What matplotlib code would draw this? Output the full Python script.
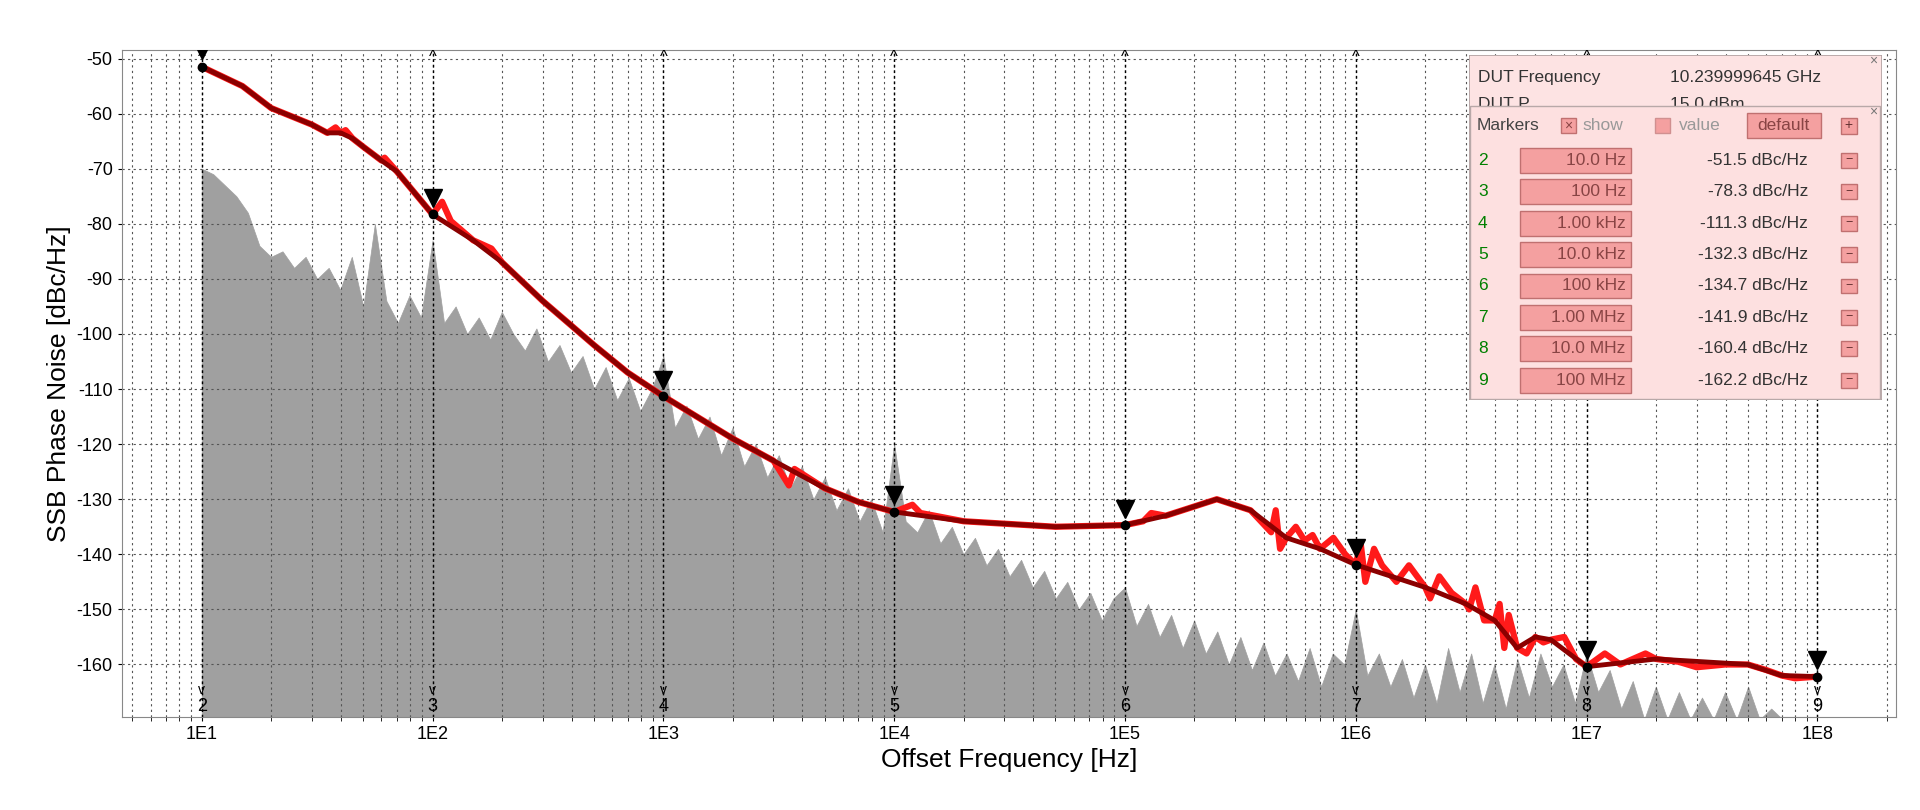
import numpy as np
import matplotlib
matplotlib.use("Agg")
import matplotlib.pyplot as plt
from matplotlib.patches import Rectangle
from matplotlib.ticker import LogLocator, NullFormatter

plt.rcParams['font.family'] = ['Liberation Sans', 'DejaVu Sans']

# smooth trace
smooth_f = [10, 15, 20, 30, 35, 40, 45, 50, 60, 70, 100, 150, 200, 300, 500, 700, 1000, 2000, 3000, 5000, 7000,
            1e4, 2e4, 5e4, 1e5, 1.5e5, 2.5e5, 3.5e5, 5e5, 7e5, 1e6, 2e6, 3e6, 4e6, 5e6, 6e6, 7e6, 1e7, 2e7, 5e7, 7e7, 1e8]
smooth_v = [-51.5, -55, -59, -62, -63.5, -63.5, -64.5, -66, -68.5, -70.5, -78.3, -83, -87, -94, -102, -107, -111.3,
            -119, -123, -128, -130.5, -132.3, -134, -135, -134.7, -133, -130, -132, -137, -139, -141.9, -146, -149,
            -152, -157, -155, -155.5, -160.4, -159, -160, -162, -162.2]
# deviations of the raw (noisy) trace from the smooth one
dev_f = [38, 42, 62, 110, 120, 180, 3500, 3700, 1.2e4, 1.3e4, 1.2e5, 1.3e5,
         4.3e5, 4.5e5, 4.7e5, 5.5e5, 6e5, 6.5e5, 8e5, 9e5, 1.05e6, 1.1e6, 1.2e6, 1.3e6, 1.5e6, 1.7e6,
         2.1e6, 2.3e6, 2.6e6, 3.1e6, 3.3e6, 3.6e6, 4.2e6, 4.4e6, 4.6e6, 5.5e6, 6.5e6, 8e6, 9e6,
         1.2e7, 1.4e7, 1.8e7, 2.5e7, 3e7, 4e7, 6e7, 8e7]
dev_v = [-62.5, -63, -68, -76, -79.5, -84.5, -127.5, -124.5, -131, -132.5, -134, -132.5,
         -136, -132, -139, -135, -137.5, -136.5, -137, -140, -138, -145, -139, -142, -145, -142,
         -148, -144, -147, -150, -146, -152, -149, -157, -151, -158, -156, -155, -159,
         -158, -160, -158, -159.5, -160.5, -160, -161, -162.5]

# measurement noise floor / spurs (grey), 20 points per decade from 1E1 to 1E8
grey_f = np.logspace(1, 8, 141)
grey_v = [-70, -71, -73, -75, -78, -84, -86, -85, -88, -86, -90, -88, -92, -86, -95, -80, -94, -98, -93, -97,
          -83, -98, -95, -100, -97, -101, -96, -100, -103, -99, -105, -102, -107, -104, -110, -106, -112, -108, -114, -110,
          -104, -117, -113, -119, -115, -122, -117, -124, -120, -126, -122, -128, -124, -130, -126, -132, -128, -134, -130, -136,
          -120, -134, -136, -132, -138, -135, -140, -137, -142, -139, -144, -141, -146, -143, -148, -145, -150, -147, -152, -148,
          -146, -153, -149, -155, -151, -157, -152, -158, -154, -160, -155, -161, -156, -162, -158, -163, -157, -164, -158, -160,
          -150, -162, -158, -164, -159, -166, -160, -167, -157, -165, -158, -167, -160, -168, -159, -166, -158, -164, -160, -167,
          -158, -165, -161, -168, -163, -170, -164, -170, -165, -170, -166, -170, -165, -170, -164, -170, -168, -170, -170, -170, -170]

marker_ids = ['2', '3', '4', '5', '6', '7', '8', '9']
marker_f = [1e1, 1e2, 1e3, 1e4, 1e5, 1e6, 1e7, 1e8]
marker_v = [-51.5, -78.3, -111.3, -132.3, -134.7, -141.9, -160.4, -162.2]
marker_flabels = ['10.0 Hz', '100 Hz', '1.00 kHz', '10.0 kHz', '100 kHz', '1.00 MHz', '10.0 MHz', '100 MHz']

xtick_labels = ['1E1', '1E2', '1E3', '1E4', '1E5', '1E6', '1E7', '1E8']

raw = sorted(zip(list(smooth_f) + dev_f, list(smooth_v) + dev_v))
raw_f = [p[0] for p in raw]
raw_v = [p[1] for p in raw]

W, H = 1546, 652
fig = plt.figure(figsize=(19.2, 8.1), dpi=100)
ax = fig.add_axes([98 / W, 1 - 577 / H, (1527 - 98) / W, (577 - 40) / H])
ymin, ymax = -169.5, -48.4
ax.set_xscale('log')
ax.set_xlim(4.5, 2.2e8)
ax.set_ylim(ymin, ymax)

ax.fill_between(grey_f, ymin, grey_v, color='#a0a0a0', lw=0.5, edgecolor='#a0a0a0', zorder=1)
ax.plot(raw_f, raw_v, color='#ff1a1a', lw=4.5, zorder=3)
ax.plot(smooth_f, smooth_v, color='#8b0000', lw=3.5, zorder=4)

for f in marker_f:
    ax.axvline(f, color='black', ls=(0, (2, 2)), lw=1, zorder=2)
ax.plot(marker_f, marker_v, 'o', color='black', ms=6, zorder=6)
ax.plot(marker_f, [v + 3 for v in marker_v], 'v', color='black', ms=13, zorder=6)
for mid, f in zip(marker_ids, marker_f):
    ax.text(f, -167.6, mid, ha='center', va='center', fontsize=13, zorder=7)
    ax.text(f, -164.6, 'v', ha='center', va='center', fontsize=10, zorder=7)
    ax.text(f, ymax - 1.4, '^', ha='center', va='center', fontsize=12, zorder=7)

ax.set_xticks(marker_f)
ax.set_xticklabels(xtick_labels, fontsize=13)
ax.xaxis.set_minor_locator(LogLocator(base=10, subs=np.arange(2, 10)))
ax.xaxis.set_minor_formatter(NullFormatter())
yt = list(range(-160, -49, 10))
ax.set_yticks(yt)
ax.set_yticklabels([str(v) for v in yt], fontsize=13)
ax.grid(True, which='both', axis='x', color='#555555', ls=(0, (2, 3)), lw=0.8)
ax.grid(True, which='major', axis='y', color='#555555', ls=(0, (2, 3)), lw=0.8)
ax.tick_params(which='both', length=3)
for s in ax.spines.values():
    s.set_color('#888888')
ax.set_xlabel('Offset Frequency [Hz]', fontsize=19)
ax.set_ylabel('SSB Phase Noise [dBc/Hz]', fontsize=19)

# info box
bx = fig.add_axes([1183 / W, 1 - 322 / H, 332 / W, 278 / H])
bx.set_xlim(1183, 1515)
bx.set_ylim(322, 44)
bx.axis('off')
bx.add_patch(Rectangle((1183, 44), 332, 278, fc='#fde3e3', ec='#b0a0a0', lw=1.2))
fs = 12.5
bx.text(1190, 62, 'DUT Frequency', fontsize=fs, va='center', color='#333333')
bx.text(1345, 62, '10.239999645 GHz', fontsize=fs, va='center', color='#333333')
bx.text(1190, 84, 'DUT P', fontsize=fs, va='center', color='#333333')
bx.text(1345, 84, '15.0 dBm', fontsize=fs, va='center', color='#333333')
bx.text(1508, 49, '×', fontsize=10, va='center', ha='center', color='#777777')
bx.add_patch(Rectangle((1184, 85), 330, 236, fc='#fde0e0', ec='#b8a8a8', lw=1, zorder=3))
bx.text(1508, 90, '×', fontsize=10, va='center', ha='center', color='#777777', zorder=4)
bx.text(1189, 101, 'Markers', fontsize=fs, va='center', color='#444444', zorder=4)
bx.add_patch(Rectangle((1257, 95), 12, 12, fc='#f4a0a0', ec='#c07070', zorder=4))
bx.text(1263, 101, '×', fontsize=10, ha='center', va='center', color='#884444', zorder=5)
bx.text(1274, 101, 'show', fontsize=fs, va='center', color='#999999', zorder=4)
bx.add_patch(Rectangle((1333, 95), 12, 12, fc='#f4a0a0', ec='#d09090', zorder=4))
bx.text(1352, 101, 'value', fontsize=fs, va='center', color='#999999', zorder=4)
bx.add_patch(Rectangle((1407, 91), 59, 20, fc='#f4a0a0', ec='#c07070', zorder=4))
bx.text(1436, 101, 'default', fontsize=fs, va='center', ha='center', color='#884444', zorder=5)
bx.add_patch(Rectangle((1482, 95), 13, 13, fc='#f4a0a0', ec='#c07070', zorder=4))
bx.text(1488.5, 101, '+', fontsize=10, va='center', ha='center', color='#663333', zorder=5)
for i, (mid, fl, v) in enumerate(zip(marker_ids, marker_flabels, marker_v)):
    y = 129 + i * 25.3
    bx.text(1190, y, mid, fontsize=fs, va='center', color='#008000', zorder=4)
    bx.add_patch(Rectangle((1224, y - 10), 89, 20, fc='#f4a0a0', ec='#c07070', zorder=4))
    bx.text(1309, y, fl, fontsize=fs, va='center', ha='right', color='#884444', zorder=5)
    bx.text(1456, y, f'{v:.1f} dBc/Hz', fontsize=fs, va='center', ha='right', color='#333333', zorder=4)
    bx.add_patch(Rectangle((1482, y - 6), 13, 12, fc='#f4a0a0', ec='#c07070', zorder=4))
    bx.text(1488.5, y, '−', fontsize=9, va='center', ha='center', color='#663333', zorder=5)

fig.savefig('out.png', dpi=100)
